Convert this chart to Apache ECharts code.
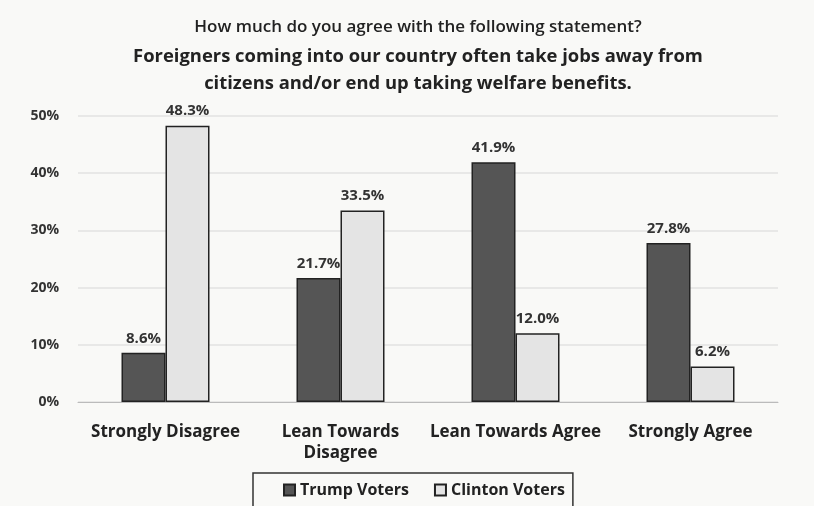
<!DOCTYPE html>
<html>
<head>
<meta charset="utf-8">
<script src="https://cdn.jsdelivr.net/npm/echarts@6/dist/echarts.min.js"></script>
<style>
  html, body { margin: 0; padding: 0; background: #f9f9f7; }
  #main { width: 814px; height: 506px; }
</style>
</head>
<body>
<div id="main"></div>
<script>
var categories = ['Strongly Disagree', 'Lean Towards\nDisagree', 'Lean Towards Agree', 'Strongly Agree']
var trumpVoters = [8.6, 21.7, 41.9, 27.8]
var clintonVoters = [48.3, 33.5, 12.0, 6.2]
var yTicks = [0, 10, 20, 30, 40, 50]

var chart = echarts.init(document.getElementById('main'))
var fontName = 'Open Sans'

var option = {
    backgroundColor: '#f9f9f7',
    title: {
        text: 'How much do you agree with the following statement?',
        subtext: 'Foreigners coming into our country often take jobs away from\ncitizens and/or end up taking welfare benefits.',
        left: 413,
        textAlign: 'center',
        top: 14,
        itemGap: 7,
        textStyle: {
            fontFamily: fontName,
            fontSize: 17,
            fontWeight: 600,
            color: '#222'
        },
        subtextStyle: {
            fontFamily: fontName,
            fontSize: 18.4,
            fontWeight: 'bold',
            color: '#222',
            lineHeight: 27
        }
    },
    legend: {
        bottom: -4,
        left: 253,
        itemWidth: 11,
        itemHeight: 11,
        itemGap: 25,
        padding: [9, 8, 12, 30],
        borderColor: '#333',
        borderWidth: 1.5,
        textStyle: {
            fontFamily: fontName,
            fontSize: 16,
            fontWeight: 'bold',
            color: '#222'
        },
        data: [
            {name: 'Trump Voters', icon: 'rect'},
            {name: 'Clinton Voters', icon: 'rect'}
        ]
    },
    grid: {
        left: 78,
        right: 36,
        top: 116,
        bottom: 104
    },
    xAxis: {
        type: 'category',
        data: categories,
        axisLine: {lineStyle: {color: '#bbb'}},
        axisTick: {show: false},
        axisLabel: {
            fontFamily: fontName,
            fontSize: 17,
            fontWeight: 'bold',
            color: '#222',
            margin: 20,
            lineHeight: 21,
            interval: 0
        }
    },
    yAxis: {
        type: 'value',
        min: 0,
        max: 50,
        interval: 10,
        axisLine: {show: false},
        axisTick: {show: false},
        axisLabel: {
            fontFamily: fontName,
            fontSize: 14,
            fontWeight: 'bold',
            color: '#333',
            margin: 19,
            formatter: function (v) {
                return yTicks.indexOf(v) >= 0 ? v + '%' : ''
            }
        },
        splitLine: {lineStyle: {color: '#e2e2e2', width: 1.5}}
    },
    series: [
        {
            name: 'Trump Voters',
            type: 'bar',
            data: trumpVoters,
            barWidth: 44,
            barGap: '0%',
            itemStyle: {color: '#555555', borderColor: '#222', borderWidth: 1.5},
            label: {
                show: true,
                position: 'top',
                distance: 7,
                fontFamily: fontName,
                fontSize: 15,
                fontWeight: 'bold',
                color: '#333',
                formatter: function (p) { return p.value.toFixed(1) + '%' }
            }
        },
        {
            name: 'Clinton Voters',
            type: 'bar',
            data: clintonVoters,
            barWidth: 44,
            barGap: '0%',
            itemStyle: {color: '#e4e4e4', borderColor: '#222', borderWidth: 1.5},
            label: {
                show: true,
                position: 'top',
                distance: 7,
                fontFamily: fontName,
                fontSize: 15,
                fontWeight: 'bold',
                color: '#333',
                formatter: function (p) { return p.value.toFixed(1) + '%' }
            }
        }
    ]
}

chart.setOption(option)
</script>
</body>
</html>
